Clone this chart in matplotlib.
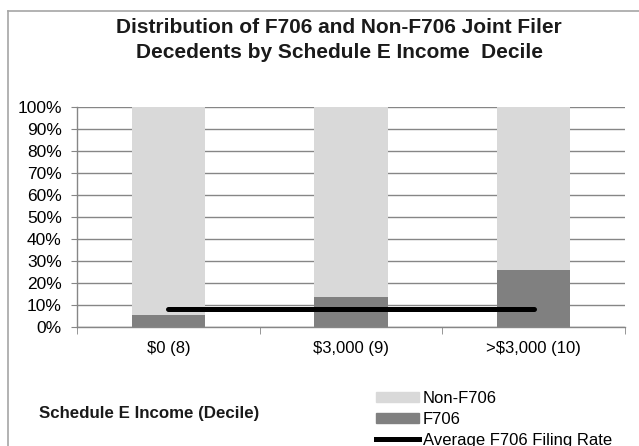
import numpy as np
import matplotlib
matplotlib.use("Agg")
from matplotlib import pyplot as plt
from matplotlib.lines import Line2D
from matplotlib.patches import Patch

categories = ["$0 (8)", "$3,000 (9)", ">$3,000 (10)"]
f706 = [5.3, 13.6, 25.8]
non_f706 = [100 - v for v in f706]
avg_rate = 8.2

plt.rcParams["font.family"] = ["Liberation Sans", "DejaVu Sans"]

grey_light = "#d9d9d9"
grey_dark = "#808080"
grid_col = "#868686"

fig = plt.figure(figsize=(6.39, 4.46), dpi=100)
ax = fig.add_axes([0.1205, 0.2675, 0.8575, 0.4933])

x = np.arange(len(categories))
ax.bar(x, f706, width=0.4, color=grey_dark, zorder=2)
ax.bar(x, non_f706, width=0.4, bottom=f706, color=grey_light, zorder=2)
ax.plot([x[0], x[-1]], [avg_rate, avg_rate], color="black", linewidth=3.6,
        solid_capstyle="round", zorder=3)

ax.set_xlim(-0.5, 2.5)
ax.set_ylim(0, 100)
ax.set_yticks(np.arange(0, 101, 10))
ax.set_yticklabels(["{}%".format(v) for v in range(0, 101, 10)], fontsize=12.5)
ax.yaxis.grid(True, color=grid_col, linewidth=1.0, zorder=0)
ax.set_axisbelow(True)

ax.set_xticks(x)
ax.set_xticklabels([c.replace("$", r"\$") for c in categories], fontsize=12)
ax.set_xticks([-0.5, 0.5, 1.5, 2.5], minor=True)
ax.tick_params(axis="x", which="major", length=0, pad=10)
ax.tick_params(axis="x", which="minor", length=5, color=grid_col, direction="out")
ax.tick_params(axis="y", length=4, color=grid_col, direction="out", pad=7)

for s in ["top", "right"]:
    ax.spines[s].set_visible(False)
for s in ["left", "bottom"]:
    ax.spines[s].set_color(grid_col)
    ax.spines[s].set_linewidth(1.0)

# title is centred on the full chart, which runs past the right edge of the crop
fig.text(339 / 639, 1 - 33 / 446, "Distribution of F706 and Non-F706 Joint Filer",
         ha="center", va="baseline", fontsize=15, fontweight="bold", color="#1a1a1a")
fig.text(339 / 639, 1 - 57.5 / 446, "Decedents by Schedule E Income  Decile",
         ha="center", va="baseline", fontsize=15, fontweight="bold", color="#1a1a1a")

fig.text(39 / 639, 1 - 418 / 446, "Schedule E Income (Decile)", ha="left", va="baseline",
         fontsize=12.2, fontweight="bold", color="#1a1a1a")

handles = [Patch(color=grey_light), Patch(color=grey_dark),
           Line2D([], [], color="black", linewidth=3.6)]
labels = ["Non-F706", "F706", "Average F706 Filing Rate"]
fig.legend(handles, labels, loc="upper left", bbox_to_anchor=(376 / 639, 1 - 391 / 446),
           frameon=False, fontsize=12, handlelength=2.6, handletextpad=0.2,
           labelspacing=0.35, borderpad=0, borderaxespad=0, handleheight=0.5)

# outer chart border (left and top only, rest is cropped)
fig.add_artist(Line2D([8 / 639, 8 / 639], [0, 1 - 11 / 446], color="#a6a6a6",
                      linewidth=1.2, transform=fig.transFigure))
fig.add_artist(Line2D([8 / 639, 1], [1 - 11 / 446, 1 - 11 / 446], color="#a6a6a6",
                      linewidth=1.2, transform=fig.transFigure))

fig.savefig("out.png", dpi=100)
